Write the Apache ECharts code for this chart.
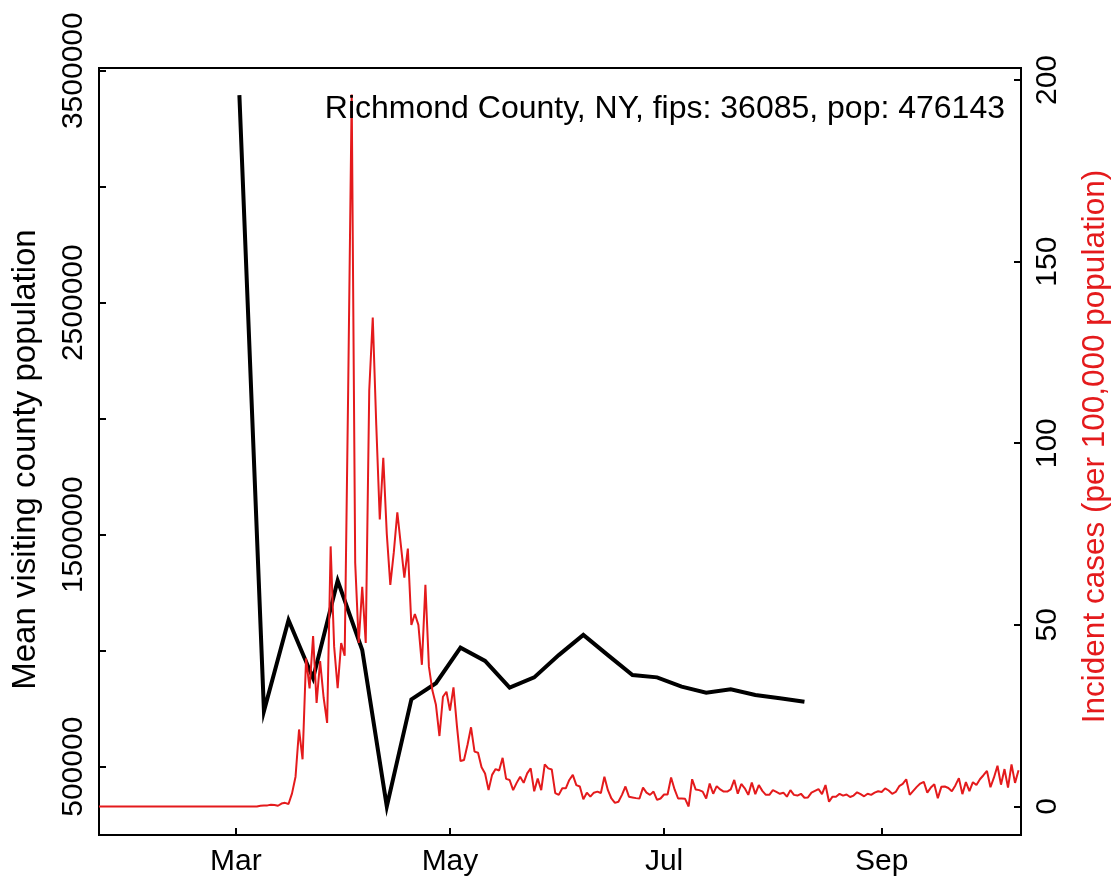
<!DOCTYPE html>
<html>
<head>
<meta charset="utf-8">
<script src="https://cdn.jsdelivr.net/npm/echarts@6/dist/echarts.min.js"></script>
<style>
html,body{margin:0;padding:0;background:#fff;}
#chart{width:1119px;height:884px;}
</style>
</head>
<body>
<div id="chart"></div>
<script>
// ---------- DATA ----------
const titleText = 'Richmond County, NY, fips: 36085, pop: 476143';
const leftAxisTitle = 'Mean visiting county population';
const rightAxisTitle = 'Incident cases (per 100,000 population)';

// Daily incident cases per 100,000, starting at caseStartDate
const caseStartDate = '2020-01-22';
const caseValues = [
  0,0,0,0,0,0,0,0,0,0, 0,0,0,0,0,0,0,0,0,0,
  0,0,0,0,0,0,0,0,0,0, 0,0,0,0,0,0,0,0,0,0,
  0,0,0,0,0,0,
  0.2,0.3,0.3,0.5,0.4,0.2,0.8,1.0,0.7,
  3.6,8.2,21.2,13,40.8,32.5,46.9,28.5,40,30,23,
  71.6,44,32.6,45,41.5,115,196,67,45,60.5,45,114.6,134.6,
  105,79,96,75,61,70,81,72,63,71,50,53,50,39,61,
  38.5,31.9,28,19.4,30.2,31.6,26.4,32.8,22,
  12.5,12.8,17,21.8,15.1,14.8,10.8,9.1,4.5,8.7,10.3,9.9,13.4,7.6,7.3,4.5,6.5,8.2,
  6.5,9.1,10.5,4.2,7.7,4.5,11.6,10.5,10.2,3.7,3.2,5.0,5.0,7.3,8.7,5.9,5.5,2.0,3.8,2.7,3.8,4.1,3.7,8.2,4.5,2.2,1.0,1.3,3.2,
  5.5,2.7,2.5,2.3,2.2,5.2,3.8,3.2,4.1,1.8,2.2,3.3,3.3,8.0,4.7,2.2,2.2,2.1,0.0,7.5,4.7,4.5,4.1,2.2,6.3,3.5,5.6,4.7,4.1,4.1,4.7,7.3,3.5,6.2,5.0,
  3.2,6.6,3.4,5.9,4.3,3.2,3.2,4.5,4.0,3.5,3.8,2.7,4.5,3.2,3.0,3.5,2.4,2.5,3.8,4.3,4.8,3.4,5.9,1.3,2.7,
  2.7,3.5,
  3.0,3.3,2.6,3.0,3.9,3.4,2.8,3.5,3.2,3.8,4.2,4.0,5.0,4.4,3.5,4.0,5.6,6.2,7.5,3.2,4.3,5.4,6.3,6.8,3.8,5.2,6.1,2.3,5.4,5.5,
  5.1,4.2,5.8,7.8,3.4,6.7,4.2,6.7,5.9,7.5,8.6,9.8,5.3,8.0,11.2,6.0,10.3,5.2,11.6,6.5,10.0
];

// Weekly mean visiting county population
const visitDates = [
  '2020-03-02','2020-03-09','2020-03-16','2020-03-23','2020-03-30','2020-04-06',
  '2020-04-13','2020-04-20','2020-04-27','2020-05-04','2020-05-11','2020-05-18',
  '2020-05-25','2020-06-01','2020-06-08','2020-06-15','2020-06-22','2020-06-29',
  '2020-07-06','2020-07-13','2020-07-20','2020-07-27','2020-08-03','2020-08-10'
];
const visitValues = [
  3395000, 740000, 1132000, 881000, 1302000, 1003000,
  329000, 790000, 860000, 1013000, 956000, 841000,
  885000, 981000, 1068000, 981000, 895000, 885000,
  845000, 819000, 834000, 809000, 795000, 780000
];

// Axis ticks / labels
const xTickDates = ['2020-03-01','2020-05-01','2020-07-01','2020-09-01'];
const xTickLabels = ['Mar','May','Jul','Sep'];
const leftTicks = [500000,1000000,1500000,2000000,2500000,3000000,3500000];
const leftLabels = [500000,1500000,2500000,3500000];
const rightTicks = [0,50,100,150,200];

// ---------- helpers ----------
function dayNum(s){
  const p = s.split('-').map(Number);
  const b = caseStartDate.split('-').map(Number);
  return Math.round((Date.UTC(p[0],p[1]-1,p[2]) - Date.UTC(b[0],b[1]-1,b[2]))/86400000);
}
const caseData = caseValues.map((v,i)=>[i,v]);
const visitData = visitDates.map((d,i)=>[dayNum(d), visitValues[i]]);
const xTickDays = xTickDates.map(dayNum);

const FONT = "'Liberation Sans', Arial, Helvetica, sans-serif";
const RED = '#E41A1C';

const chart = echarts.init(document.getElementById('chart'), null, {renderer:'canvas'});
chart.setOption({
  animation: false,
  backgroundColor: '#fff',
  textStyle: {fontFamily: FONT},
  title: {
    text: titleText, right: 114, top: 93, padding: 0,
    textStyle: {fontSize: 32, fontWeight: 'normal', color: '#000', fontFamily: FONT}
  },
  grid: {left: 99, right: 98, top: 68, bottom: 49, show: true, borderColor: '#000', borderWidth: 2, backgroundColor: 'transparent'},
  xAxis: {
    type: 'value', min: 0, max: 262.7,
    axisLine: {show: true, onZero: false, lineStyle: {color: '#000', width: 2}},
    axisTick: {show: true, inside: true, length: 7, customValues: xTickDays, lineStyle: {color: '#000', width: 2}},
    axisLabel: {show: true, customValues: xTickDays, margin: 12, fontSize: 30, color: '#000', fontFamily: FONT,
      formatter: v => { const i = xTickDays.indexOf(Math.round(v)); return i >= 0 ? xTickLabels[i] : ''; }},
    splitLine: {show: false}
  },
  yAxis: [
    {
      type: 'value', position: 'left', min: 205600, max: 3511600,
      name: leftAxisTitle, nameLocation: 'middle', nameRotate: 90, nameGap: 57,
      nameTextStyle: {fontSize: 33, color: '#000', fontFamily: FONT, padding: [0, 16, 0, 0]},
      axisLine: {show: true, onZero: false, lineStyle: {color: '#000', width: 2}},
      axisTick: {show: true, inside: true, length: 7, customValues: leftTicks, lineStyle: {color: '#000', width: 2}},
      axisLabel: {show: true, customValues: leftLabels, rotate: 90, margin: 10, fontSize: 30, color: '#000', fontFamily: FONT,
        formatter: v => String(Math.round(v))},
      splitLine: {show: false}
    },
    {
      type: 'value', position: 'right', min: -7.85, max: 203.3,
      name: rightAxisTitle, nameLocation: 'middle', nameRotate: 90, nameGap: 58,
      nameTextStyle: {fontSize: 31.5, color: RED, fontFamily: FONT, padding: [0, 0, 0, 10]},
      axisLine: {show: true, onZero: false, lineStyle: {color: '#000', width: 2}},
      axisTick: {show: true, inside: true, length: 7, customValues: rightTicks, lineStyle: {color: '#000', width: 2}},
      axisLabel: {show: true, customValues: rightTicks, rotate: 90, margin: 12, fontSize: 30, color: '#000', fontFamily: FONT,
        formatter: v => String(Math.round(v))},
      splitLine: {show: false}
    }
  ],
  series: [
    {
      type: 'line', name: 'visits', yAxisIndex: 0, data: visitData,
      showSymbol: false, symbol: 'none', lineStyle: {color: '#000', width: 4, join: 'miter'}, z: 2, silent: true
    },
    {
      type: 'line', name: 'cases', yAxisIndex: 1, data: caseData,
      showSymbol: false, symbol: 'none', lineStyle: {color: RED, width: 2}, z: 3, silent: true
    }
  ]
});
</script>
</body>
</html>
